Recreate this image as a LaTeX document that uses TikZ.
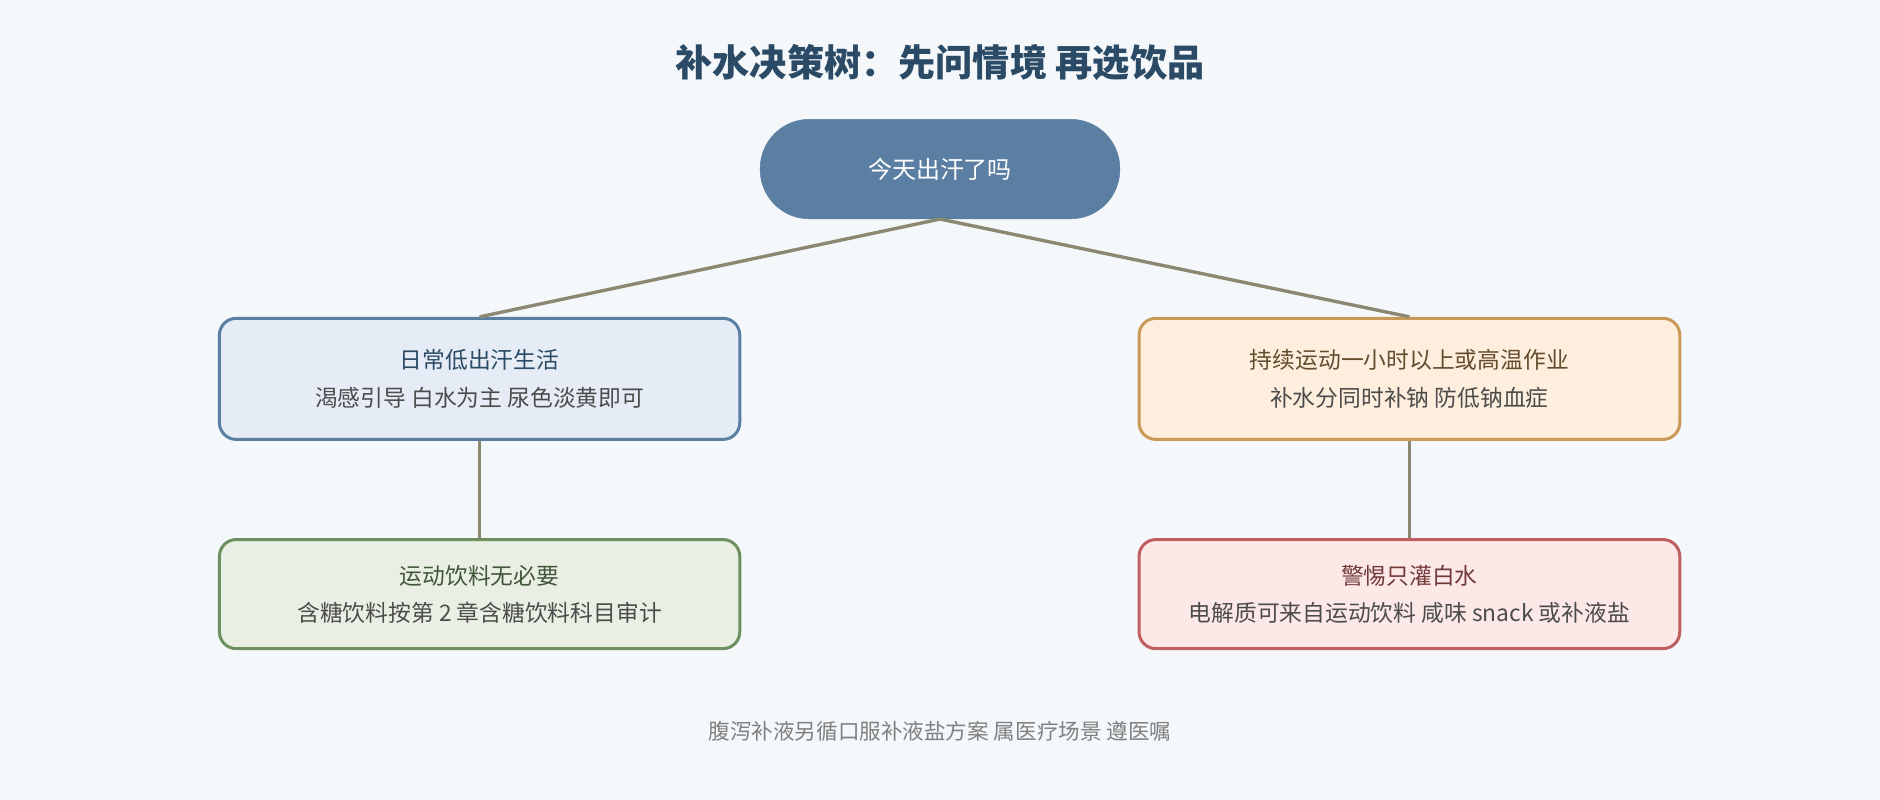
\documentclass[tikz,border=0pt]{standalone}
\usepackage{fontspec}
\setmainfont{Noto Sans CJK SC}
\usetikzlibrary{positioning}
\definecolor{bgc}{HTML}{F4F8FB}
\definecolor{titlec}{HTML}{2A4A66}
\definecolor{rootc}{HTML}{5B7FA3}
\definecolor{linkc}{HTML}{8A8870}
\definecolor{blueb}{HTML}{5B7FA3}\definecolor{bluef}{HTML}{E5ECF5}
\definecolor{orab}{HTML}{C9995A}\definecolor{oraf}{HTML}{FDEEDD}
\definecolor{greb}{HTML}{6E9060}\definecolor{gref}{HTML}{E9F0E3}
\definecolor{redb}{HTML}{BF5F5F}\definecolor{redf}{HTML}{FDE8E8}
\tikzset{
  box/.style={rectangle,rounded corners=14pt,line width=2.5pt,align=center,
    font=\fontsize{19}{31}\selectfont,text=black!70},
  link/.style={draw=linkc,line width=2.8pt}
}
\begin{document}
\begin{tikzpicture}[x=1pt,y=-1pt]
	\fill[bgc] (0,0) rectangle (1568,667);
	\useasboundingbox (0,0) rectangle (1568,667);

	\node[font=\fontsize{31}{36}\selectfont\bfseries,text=titlec] (title) at (784,52) {补水决策树：先问情境 再选饮品};

	\node[rectangle,rounded corners=41pt,fill=rootc,draw=rootc,minimum width=300pt,minimum height=83pt,
		text=white,font=\fontsize{20}{24}\selectfont] (root) at (784,141) {今天出汗了吗};

	\node[box,draw=blueb,fill=bluef,minimum width=434pt,minimum height=101pt] (daily) at (400,316)
		{\textcolor{titlec}{日常低出汗生活}\\渴感引导 白水为主 尿色淡黄即可};
	\node[box,draw=orab,fill=oraf,minimum width=451pt,minimum height=101pt] (sport) at (1175.5,316)
		{\textcolor{orab!50!black}{持续运动一小时以上或高温作业}\\补水分同时补钠 防低钠血症};
	\node[box,draw=greb,fill=gref,minimum width=434pt,minimum height=91pt] (nodrink) at (400,495.5)
		{\textcolor{greb!60!black}{运动饮料无必要}\\含糖饮料按第 2 章含糖饮料科目审计};
	\node[box,draw=redb,fill=redf,minimum width=451pt,minimum height=91pt] (warn) at (1175.5,495.5)
		{\textcolor{redb!60!black}{警惕只灌白水}\\电解质可来自运动饮料 咸味 snack 或补液盐};

	\draw[link] (root.south) -- (daily.north);
	\draw[link] (root.south) -- (sport.north);
	\draw[link] (daily.south) -- (nodrink.north);
	\draw[link] (sport.south) -- (warn.north);

	\node[font=\fontsize{18}{22}\selectfont,text=black!50] (note) at (784,610) {腹泻补液另循口服补液盐方案 属医疗场景 遵医嘱};
\end{tikzpicture}
\end{document}
